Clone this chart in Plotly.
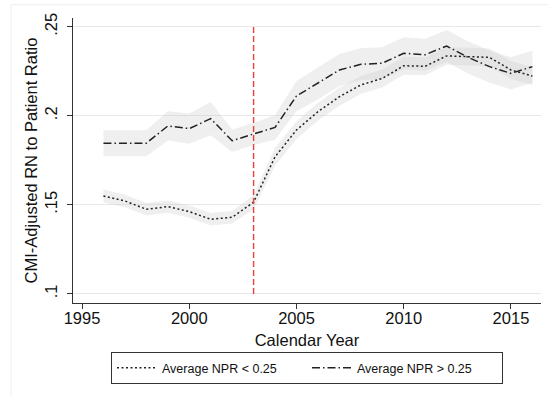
import plotly.graph_objects as go

years = list(range(1996, 2017))
npr_low = [0.155, 0.1522, 0.1475, 0.149, 0.1462, 0.1419, 0.143, 0.1515, 0.177, 0.192,
           0.2023, 0.2107, 0.2173, 0.221, 0.2281, 0.2278, 0.2336, 0.2332, 0.2328, 0.2257, 0.2223]
npr_low_ci = [0.0037, 0.0035, 0.0035, 0.0035, 0.0035, 0.0035, 0.0035, 0.004, 0.005, 0.005,
              0.005, 0.005, 0.005, 0.005, 0.005, 0.005, 0.005, 0.005, 0.005, 0.005, 0.005]
npr_high = [0.1846, 0.1846, 0.1846, 0.1943, 0.1928, 0.1984, 0.186, 0.1898, 0.1935, 0.2111,
            0.2182, 0.2257, 0.2289, 0.2295, 0.2351, 0.2343, 0.2392, 0.2328, 0.2276, 0.2238, 0.2276]
npr_high_ci = [0.0073, 0.0073, 0.0073, 0.0082, 0.0085, 0.0093, 0.0063, 0.0062, 0.007, 0.0085,
               0.009, 0.009, 0.009, 0.009, 0.009, 0.009, 0.009, 0.009, 0.009, 0.009, 0.009]
series_names = ["Average NPR < 0.25", "Average NPR > 0.25"]
policy_year = 2003
y_ticks = [0.1, 0.15, 0.2, 0.25]
y_tick_labels = [".1", ".15", ".2", ".25"]
x_ticks = [1995, 2000, 2005, 2010, 2015]

FONT = "Liberation Sans, Arial, Helvetica, sans-serif"
band_fill = "rgba(205,205,205,0.33)"

fig = go.Figure()

def add_band(mean, ci):
    upper = [m + c for m, c in zip(mean, ci)]
    lower = [m - c for m, c in zip(mean, ci)]
    fig.add_trace(go.Scatter(
        x=years + years[::-1], y=upper + lower[::-1],
        fill="toself", fillcolor=band_fill, line=dict(width=0),
        mode="lines", showlegend=False, hoverinfo="skip"))

add_band(npr_low, npr_low_ci)
add_band(npr_high, npr_high_ci)

fig.add_trace(go.Scatter(
    x=years, y=npr_low, mode="lines", name=series_names[0],
    line=dict(color="#222222", width=1.5, dash="2px,2.5px")))
fig.add_trace(go.Scatter(
    x=years, y=npr_high, mode="lines", name=series_names[1],
    line=dict(color="#222222", width=1.5, dash="8px,3px,1.5px,3px")))

fig.add_shape(type="line", xref="x", yref="y",
              x0=policy_year, x1=policy_year, y0=y_ticks[0], y1=y_ticks[-1],
              line=dict(color="#f03c3c", width=1.4, dash="6px,3px"))

# light outer frame of graph region
fig.add_shape(type="rect", xref="paper", yref="paper",
              x0=-0.1325, x1=1.2, y0=-0.4, y1=1.0467,
              line=dict(color="#eeeeee", width=1), layer="below")

fig.update_layout(
    width=548, height=396,
    margin=dict(l=73, r=7, t=18, b=93, autoexpand=False),
    paper_bgcolor="white", plot_bgcolor="white",
    font=dict(family=FONT, color="#111111", size=16),
    showlegend=True,
    legend=dict(orientation="h", x=0.5, xanchor="center", y=-0.172, yanchor="top",
                bordercolor="#333333", borderwidth=1, font=dict(size=12.5),
                entrywidth=140, itemwidth=40, tracegroupgap=0),
    xaxis=dict(range=[1994.58, 2016.4], tickvals=x_ticks, ticks="outside", ticklen=5,
               tickcolor="#333333", showline=True, linecolor="#333333", linewidth=1,
               showgrid=False, zeroline=False, ticklabelstandoff=-5, automargin=False,
               title=dict(text="Calendar Year", font=dict(size=16.5), standoff=8),
               tickfont=dict(size=16.5)),
    yaxis=dict(range=[0.0949, 0.2549], tickvals=y_ticks, ticktext=y_tick_labels,
               tickangle=-90, ticks="outside", ticklen=5, tickcolor="#333333",
               showline=True, linecolor="#333333", linewidth=1, ticklabelstandoff=3,
               showgrid=True, gridcolor="#e8e8e8", gridwidth=1, zeroline=False,
               automargin=False,
               title=dict(text="CMI-Adjusted RN to Patient Ratio", font=dict(size=16.5), standoff=0),
               tickfont=dict(size=16.5)),
)

fig.write_html("out.html")
